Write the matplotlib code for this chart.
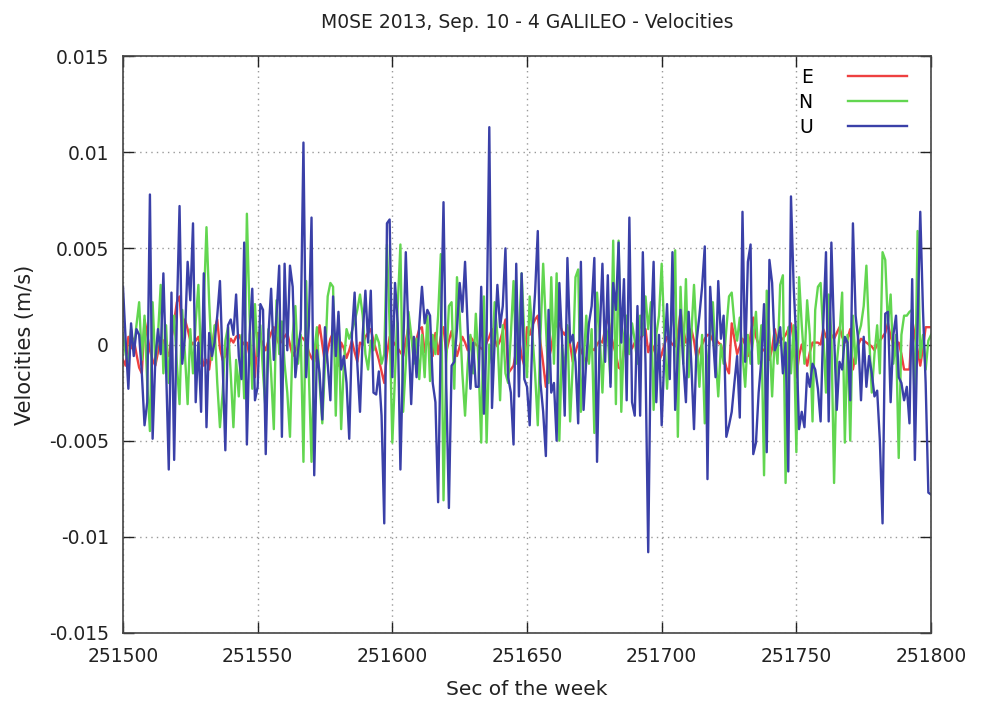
import numpy as np
import matplotlib
matplotlib.use("Agg")
import matplotlib.pyplot as plt
from matplotlib.ticker import FuncFormatter

# seconds of the week (1 Hz)
sec = np.arange(251500, 251801)

# velocities in mm/s
e_mm = [
    -0.8, -1.1, 0.4, -0.2, 0.3, -0.5, -1.2, -1.5, 1.3, 0.5, -0.3, -0.8, -1.1, -0.4, 0.3, 0.2, -0.3, -0.6, 0.3, 1.2,
    2.2, 2.5, 0.5, 1.3, 0.8, 0.2, 0.0, 0.2, 0.4, -0.5, -1.1, -0.8, -1.3, -0.2, 0.8, 1.3, -0.2, -0.8, -0.6, -0.1,
    0.3, 0.1, 0.4, 0.5, 0.2, 0.0, 0.1, -0.6, -1.2, -1.7, 0.6, 0.3, 0.0, -0.3, 0.2, 0.6, 0.9, 0.4, 0.0, 0.2,
    0.4, 0.6, 0.0, -0.6, -0.3, 0.1, 0.4, 0.3, 0.1, -0.4, -0.7, -0.9, 0.2, 1.0, 0.0, -1.0, -0.3, 0.3, 0.6, -0.2,
    -1.1, 0.1, -0.2, -0.7, -0.3, 0.2, -0.4, -0.9, 0.1, 0.0, 0.4, 0.6, 0.8, 0.2, -0.3, -0.8, -1.4, -2.0, -0.5, 0.4,
    0.2, 0.0, -0.2, -0.4, -0.6, 0.2, 0.9, 0.4, -0.1, 0.3, 0.8, 0.9, -0.4, 0.3, -0.2, -0.6, 0.6, -0.5, 0.4, 0.9,
    -0.4, 0.2, 0.7, 0.0, -0.6, -0.1, 0.4, 0.1, -0.3, 0.4, 0.2, 0.0, -0.1, -0.2, -0.3, 0.1, 0.4, 0.8, 0.3, -0.1,
    0.2, 0.7, 1.3, -1.5, -1.3, -1.1, -0.3, 0.3, -0.6, -1.1, 0.9, 0.5, 1.0, 1.3, 1.5, 0.1, -1.0, -2.2, -0.8, -0.2,
    0.8, 1.0, 1.1, 0.7, 0.5, 0.9, 0.0, -0.9, -0.4, 0.1, -0.3, -0.6, -0.9, -0.4, -0.2, -0.3, 0.0, 0.2, 0.1, 0.8,
    1.5, 0.6, 0.0, -0.5, -1.2, -1.3, -0.3, 0.2, 0.0, -0.2, 0.1, 0.1, 0.3, 0.5, 0.8, -0.4, 0.1, -0.2, -0.6, -0.9,
    -0.5, 0.0, 0.4, 0.2, 0.0, -0.1, 0.6, 1.7, 0.8, 0.1, 0.4, 0.8, 0.2, -0.8, -0.3, 0.0, 0.3, 0.5, 0.5, 0.2,
    0.3, 0.1, 0.0, -0.6, -1.2, -1.5, 1.1, 0.3, -0.5, -0.1, 0.3, 0.0, -0.6, 0.5, 1.4, 0.4, 0.0, -0.2, -0.3, -0.5,
    -0.8, -0.2, 0.8, 0.0, 0.2, 0.3, 0.5, 0.8, 1.1, 0.2, -1.7, -0.6, 0.0, -0.5, -1.1, -0.4, 0.1, 0.1, 0.1, 0.0,
    0.8, 0.4, 0.2, 0.5, 0.3, 0.6, 0.9, 0.4, 0.1, 0.3, 0.8, -1.3, -0.5, 0.0, 0.3, 0.2, 0.1, 0.0, -0.1, -0.3,
    0.0, 0.2, 0.4, 0.6, 1.1, 0.4, 0.0, 0.1, 0.1, -0.5, -1.3, -1.3, -1.3, 1.3, 0.4, -0.3, -1.1, -0.2, 0.9, 0.9,
    0.9,
]

n_mm = [
    0.5, -0.5, -1.0, 0.8, -0.3, 1.0, 2.2, -0.8, 1.5, -2.0, -4.5, 2.2, -1.0, 0.5, 3.1, -1.5, 1.0, -2.0, 0.3, 1.5,
    -1.0, -3.1, 1.8, -0.5, -3.1, 0.8, -1.5, 1.2, 3.1, -1.0, 2.0, 6.1, 2.2, -0.8, 1.0, -2.0, -4.3, -2.5, 0.2, 0.9,
    -1.5, -4.3, -0.8, -2.7, 0.5, -2.8, 6.8, 1.5, -2.3, 2.1, -0.6, 1.0, -1.5, -3.5, 0.8, -1.5, -4.4, 2.3, -0.5, 1.2,
    -1.0, -2.5, -4.8, 0.5, 2.0, -1.0, 0.5, -6.1, 3.3, -1.5, -6.1, -0.5, 0.9, -2.0, -4.1, -1.0, 2.5, 3.2, 3.0, -3.7,
    1.5, -4.4, -1.0, 0.8, 0.3, 0.7, 1.2, 1.8, 2.6, 1.5, -0.5, -1.3, 0.2, -0.3, 0.5, 0.1, -1.0, -0.5, 5.2, 1.0,
    -5.1, -1.5, 2.0, 5.2, -3.5, -1.0, 1.7, 0.5, -1.0, 0.3, -1.8, 0.5, -1.7, 1.5, -1.9, 0.5, -0.5, 1.5, 4.7, -8.1,
    -1.0, 2.0, 2.2, -2.3, 3.5, 1.5, -1.5, -3.7, -1.0, 0.5, -1.5, 1.6, -1.0, -5.1, 2.5, -5.1, 0.0, -1.0, 2.2, 0.5,
    -2.9, 1.0, -1.5, -2.0, 0.5, 3.3, -1.0, 0.5, 3.7, 0.5, -1.7, 2.5, 0.5, -1.5, -4.2, 0.5, 4.2, 1.0, -2.0, 3.5,
    -1.0, 3.7, -5.0, 0.0, -1.5, 1.0, -4.0, -1.0, 3.5, 3.9, -3.5, -1.0, 1.5, -1.0, 0.8, -4.6, 2.7, 0.5, -2.5, 1.0,
    0.5, -2.0, 5.4, -3.1, 5.4, -3.5, 0.5, 1.5, -0.5, 1.1, 0.2, -1.0, 1.5, 0.5, 2.5, 0.8, 2.2, -3.4, 0.5, 1.5,
    4.2, 0.5, -2.3, 0.5, 1.5, 4.9, -4.8, 3.0, -1.0, 3.4, -1.7, 0.5, 3.1, 0.2, -2.2, 0.5, -4.1, -1.0, 0.5, 2.2,
    -0.5, -2.7, 0.0, -1.0, 0.8, 2.5, 2.7, 1.1, 0.2, 1.4, -0.5, -2.2, 0.5, -1.0, 0.3, 1.7, -1.0, 1.0, -6.8, 2.8,
    0.5, -2.7, 0.5, -1.0, 3.1, 3.6, -7.2, 0.9, -1.5, 1.0, -5.6, 3.5, 1.0, -1.0, 2.3, 0.5, -4.0, 1.8, 3.0, 3.2,
    0.5, -2.5, 2.6, 0.5, -7.2, -1.0, 0.5, 2.7, -5.1, 0.5, -5.0, 1.5, -1.0, 0.5, 1.0, 2.0, 4.1, 0.5, -2.5, -0.5,
    1.0, -1.5, 4.8, 4.4, 1.0, 2.6, -1.0, 0.5, -5.9, 0.5, 1.5, 1.5, 1.7, 1.8, -3.5, 5.9, -0.7, 0.5, -1.3, 0.2,
    0.5,
]

u_mm = [
    3.0, 0.2, -2.3, 1.1, -0.6, 0.8, 0.5, -1.5, -4.2, -3.0, 7.8, -4.9, -0.8, 0.8, -0.5, 3.7, -1.2, -6.5, 2.7, -6.0,
    1.5, 7.2, -1.0, 0.4, 4.3, 2.3, 6.3, -3.0, 0.1, -3.5, 3.7, -4.3, 0.6, -0.6, 0.1, 1.5, 3.3, -1.0, -5.5, 1.0,
    1.3, 0.5, 2.6, -0.6, -1.8, 5.3, -5.2, 0.5, 2.9, -2.9, -2.2, 2.1, 1.8, -5.7, 0.5, 2.9, -0.8, 1.5, 4.1, -4.8,
    4.2, -0.3, 4.1, 3.0, -1.7, -0.3, 0.8, 10.5, -1.7, 1.0, 6.6, -6.8, -0.3, -1.5, -3.9, 0.9, -1.0, -2.9, 2.5, -0.6,
    1.7, -1.3, -0.6, -2.0, -4.9, 0.5, 2.7, -1.0, -3.5, 0.5, 2.8, 0.1, 2.8, -2.5, -2.6, -1.4, -3.7, -9.3, 6.3, 6.5,
    -1.7, 3.2, 1.1, -6.5, -0.5, 4.8, 0.5, -3.1, 0.4, -1.7, 1.0, 3.0, 1.1, 1.8, 1.5, -2.0, -3.0, -8.2, 0.5, 7.4,
    -2.0, -8.5, -1.1, -0.9, 0.8, 3.2, 1.7, 4.3, 0.8, -2.3, 0.1, -2.2, -2.2, 3.0, -3.6, 0.5, 11.3, -3.3, 0.2, 3.1,
    0.9, 2.0, 5.0, -1.7, -2.5, -5.2, 4.2, -2.7, 3.7, -1.8, -2.2, -4.2, 0.5, 2.7, 5.9, -2.0, -3.5, -5.8, 1.8, -2.5,
    -2.0, -5.0, 3.2, 0.2, -3.7, 4.5, 0.1, 0.5, -0.9, -4.1, 4.3, -3.4, -0.8, 1.1, 2.0, 4.5, -6.1, 0.5, 4.2, -0.9,
    3.6, -2.2, 3.2, 1.8, 5.3, 0.1, 3.4, -2.9, 6.6, -3.0, -3.7, 2.0, -3.7, 4.8, -1.0, -10.8, 0.5, 4.3, -3.0, 0.5,
    -4.2, -0.5, 2.1, -1.8, 4.8, -3.4, -0.5, 1.8, -0.9, -3.0, 1.7, -1.0, -4.4, 0.2, 1.5, 3.0, 5.1, -7.0, 3.0, 0.5,
    -1.7, 3.3, 0.3, 1.5, -4.8, -4.2, -3.5, -2.0, -0.6, -3.8, 6.9, -0.9, 4.3, 5.2, -5.7, -5.1, -2.5, -0.8, 2.1, -5.6,
    4.4, 3.2, -0.3, 0.1, 0.9, -1.5, 0.1, -6.6, 7.7, 3.0, 0.1, -4.4, -3.5, -4.3, -1.5, -2.2, -1.0, -1.3, -2.3, -4.0,
    1.1, 4.8, -4.0, 5.3, 0.5, -3.4, -0.9, -1.3, 0.4, 0.1, -2.9, 6.3, 1.5, 0.2, -2.9, 0.4, -2.2, -0.6, -1.5, -2.7,
    -2.4, -5.0, -9.3, 1.6, 1.7, -3.0, 0.5, 1.5, -1.7, -2.0, -2.9, -2.2, -4.1, 3.4, -6.0, 1.0, 6.9, 1.8, -2.0, -7.7,
    -7.8,
]

labels = ["E", "N", "U"]
colors = ["#ee4040", "#62d650", "#3a40a8"]

fig = plt.figure(figsize=(9.87, 7.02), dpi=100)
ax = fig.add_axes([0.1246, 0.0983, 0.8187, 0.8219])

for vals, lab, col in zip([e_mm, n_mm, u_mm], labels, colors):
    ax.plot(sec, np.array(vals) / 1000.0, color=col, lw=1.7, label=lab)

ax.set_xlim(251500, 251800)
ax.set_ylim(-0.015, 0.015)
ax.set_xticks(np.arange(251500, 251801, 50))
ax.set_yticks(np.arange(-0.015, 0.0151, 0.005))
ax.yaxis.set_major_formatter(FuncFormatter(lambda v, p: "%g" % round(v, 4)))

ax.grid(True, color="#999999", linestyle=(0, (1, 3)), lw=1.0)
ax.tick_params(direction="in", length=8, width=1, top=True, right=True,
               labelsize=13.5, pad=10, colors="#222222")
for sp in ax.spines.values():
    sp.set_color("#444444")
    sp.set_linewidth(1.2)

ax.set_title("M0SE 2013, Sep. 10 - 4 GALILEO - Velocities", fontsize=13.5, pad=20, color="#222222")
ax.set_xlabel("Sec of the week", fontsize=14.5, labelpad=10, color="#222222")
ax.set_ylabel("Velocities (m/s)", fontsize=15, labelpad=10, color="#222222")

# gnuplot style key: label on the left, sample line on the right
leg = ax.legend(loc="upper right", bbox_to_anchor=(0.98, 0.993), frameon=False,
                markerfirst=False, fontsize=13.5, handlelength=3.15, labelspacing=0.32,
                borderaxespad=0.0, handletextpad=1.9)

fig.savefig("out.png", dpi=100)
plt.close(fig)
